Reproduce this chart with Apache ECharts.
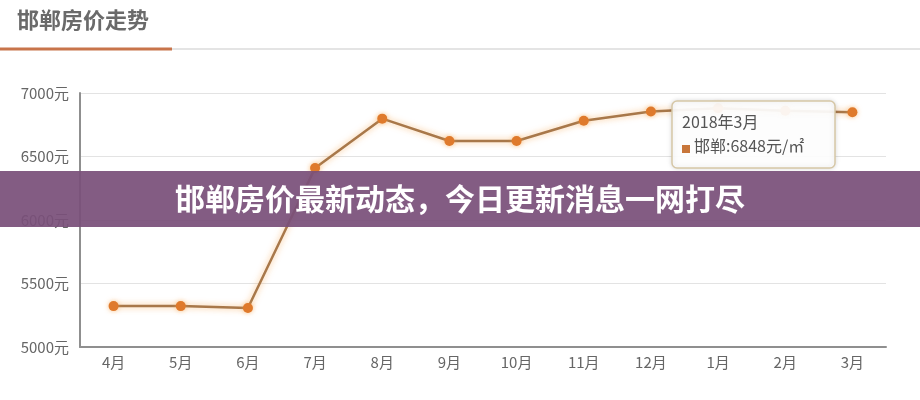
<!DOCTYPE html>
<html><head><meta charset="utf-8">
<script src="https://cdn.jsdelivr.net/npm/echarts@6/dist/echarts.min.js"></script>
<style>html,body{margin:0;padding:0;background:#fff}#c{width:920px;height:400px}</style>
</head><body><div id="c"></div>
<script>
const months = ['4月','5月','6月','7月','8月','9月','10月','11月','12月','1月','2月','3月'];
const prices = [5322, 5322, 5307, 6409, 6798, 6622, 6622, 6782, 6855, 6880, 6860, 6848];
const yTicks = [5000, 5500, 6000, 6500, 7000];
const chartTitle = '邯郸房价走势';
const bannerText = '邯郸房价最新动态，今日更新消息一网打尽';
const tipPeriod = '2018年3月';
const cityName = '邯郸';

const FONT = '"Noto Sans CJK SC", "Noto Sans", sans-serif';
const chart = echarts.init(document.getElementById('c'));
const last = prices[prices.length - 1];
chart.setOption({
  animation: false,
  textStyle: { fontFamily: FONT },
  grid: { left: 80, right: 34, top: 93, bottom: 53 },
  xAxis: {
    type: 'category', data: months, boundaryGap: true,
    axisLine: { lineStyle: { color: '#8f8f8f', width: 2 } },
    axisTick: { alignWithLabel: true, length: 5, lineStyle: { color: '#bbb' } },
    axisLabel: { color: '#666', fontSize: 15, margin: 8, fontFamily: FONT }
  },
  yAxis: {
    type: 'value', min: yTicks[0], max: yTicks[yTicks.length - 1], interval: 500,
    axisLine: { show: true, lineStyle: { color: '#8f8f8f', width: 2 } },
    axisTick: { show: false },
    axisLabel: { color: '#666', fontSize: 15, margin: 11, formatter: v => v + '元', fontFamily: FONT },
    splitLine: { lineStyle: { color: '#e3e3e3', width: 1 } }
  },
  series: [{
    type: 'line', data: prices, symbol: 'circle', symbolSize: 10,
    lineStyle: { color: '#a8784a', width: 2.5, shadowColor: 'rgba(245,160,70,0.7)', shadowBlur: 6 },
    itemStyle: { color: '#df7a2c', shadowColor: 'rgba(245,160,70,0.6)', shadowBlur: 5 },
    z: 3
  }],
  graphic: [
    { type: 'text', left: 17, top: 9, style: { text: chartTitle, fontSize: 22, fontWeight: 'bold', fill: '#6a6a6a', fontFamily: FONT } },
    { type: 'line', shape: { x1: 0, y1: 49, x2: 920, y2: 49 }, style: { stroke: '#e4e4e4', lineWidth: 2 } },
    { type: 'line', shape: { x1: 0, y1: 49, x2: 172, y2: 49 }, style: { stroke: '#c8744a', lineWidth: 3 } },
    { type: 'rect', z: 50, shape: { x: 672, y: 101, width: 163, height: 67, r: 5 },
      style: { fill: 'rgba(255,255,255,0.93)', stroke: '#d6c7a6', lineWidth: 1.5, shadowBlur: 5, shadowColor: 'rgba(0,0,0,0.15)' } },
    { type: 'text', z: 51, x: 682, y: 114, style: { text: tipPeriod, fontSize: 16, fill: '#555', fontFamily: FONT } },
    { type: 'rect', z: 51, shape: { x: 682, y: 145, width: 8, height: 8 }, style: { fill: '#c8763a' } },
    { type: 'text', z: 51, x: 694, y: 138, style: { text: cityName + ':' + last + '元/㎡', fontSize: 16, fill: '#555', fontFamily: FONT } },
    { type: 'rect', z: 100, shape: { x: 0, y: 171, width: 920, height: 56 }, style: { fill: 'rgba(122,80,122,0.93)' } },
    { type: 'text', z: 101, x: 460, y: 199, style: { text: bannerText, fontSize: 30, fontWeight: 'bold', fill: '#fff', align: 'center', verticalAlign: 'middle', fontFamily: FONT } }
  ]
});
</script></body></html>
